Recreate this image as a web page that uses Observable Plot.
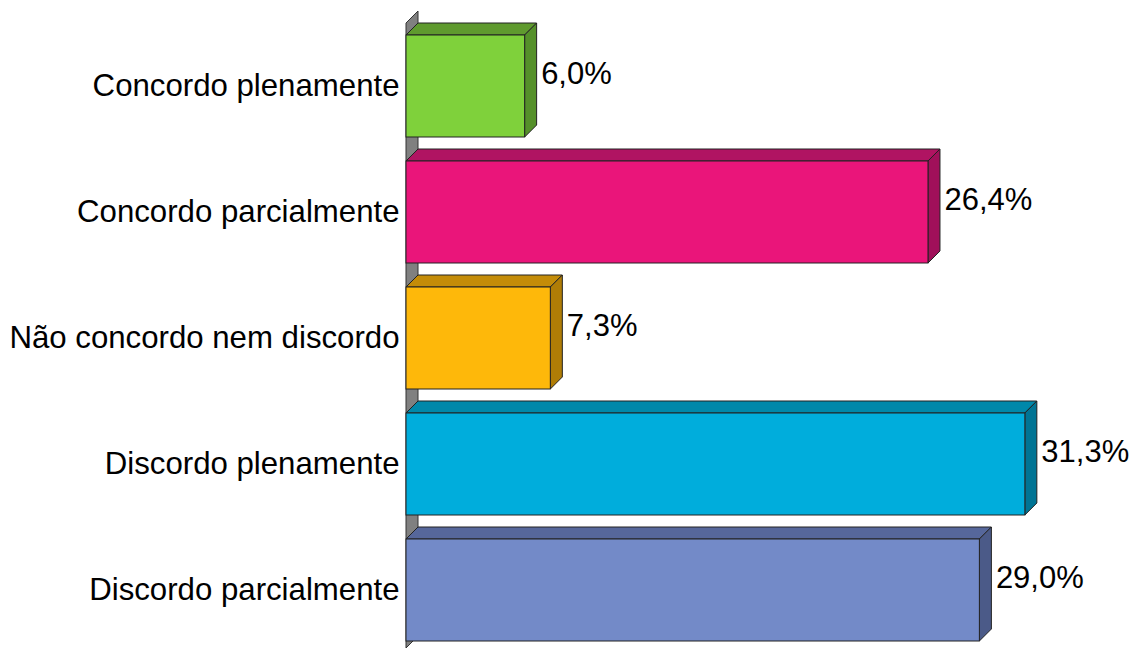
<!DOCTYPE html>
<html><head><meta charset="utf-8">
<script src="https://cdn.jsdelivr.net/npm/d3@7"></script>
<script src="https://cdn.jsdelivr.net/npm/@observablehq/plot@0.6"></script>
<style>body{margin:0;background:#fff;overflow:hidden}</style>
</head><body><div id="chart"></div>
<script>
const categories = ["Concordo plenamente", "Concordo parcialmente", "Não concordo nem discordo", "Discordo plenamente", "Discordo parcialmente"];
const values = [6.0, 26.4, 7.3, 31.3, 29.0];
const frontColors = ["#7FD13B", "#EA157A", "#FEB80A", "#00ADDC", "#738AC8"];
const topColors = ["#5F9A2E", "#B01462", "#C48C08", "#0088AA", "#56679B"];
const sideColors = ["#55902A", "#A0105A", "#B07D06", "#007494", "#4B5A88"];

const data = categories.map((c, i) => ({category: c, value: values[i], front: frontColors[i], top: topColors[i], side: sideColors[i]}));
const DX = 12, DY = -12;
const pt = (a) => a.map(p => p.join(",")).join(" ");

function wall(index, scales, vals, dims) {
  const x0 = scales.x(0);
  const g = d3.create("svg:g");
  g.append("polygon")
    .attr("points", pt([[x0, dims.marginTop + DY], [x0 + DX, dims.marginTop + 2 * DY], [x0 + DX, dims.height + DY], [x0, dims.height]]))
    .attr("fill", "#808080").attr("stroke", "#333").attr("stroke-width", 1);
  return g.node();
}

const chart = Plot.plot({
  width: 1133,
  height: 648,
  marginLeft: 406,
  marginRight: 34,
  marginTop: 35,
  marginBottom: 7,
  style: {fontFamily: "'Liberation Sans', Arial, sans-serif", color: "#000", background: "#fff"},
  x: {domain: [0, 35.05], axis: null},
  y: {domain: categories, paddingInner: 24 / 126, paddingOuter: 0, axis: null},
  color: {type: "identity"},
  marks: [
    wall,
    Plot.barX(data, {
      x: "value", y: "category", fill: "front", stroke: "#222", strokeWidth: 1,
      render(index, scales, vals, dims, context, next) {
        const g = d3.create("svg:g");
        const bw = scales.y.bandwidth();
        for (const i of index) {
          const d = data[i];
          const xa = Math.min(vals.x1[i], vals.x2[i]), xb = Math.max(vals.x1[i], vals.x2[i]);
          const ya = vals.y[i], yb = ya + bw;
          g.append("polygon").attr("points", pt([[xa, ya], [xa + DX, ya + DY], [xb + DX, ya + DY], [xb, ya]]))
            .attr("fill", d.top).attr("stroke", "#222").attr("stroke-width", 1).attr("stroke-linejoin", "round");
          g.append("polygon").attr("points", pt([[xb, ya], [xb + DX, ya + DY], [xb + DX, yb + DY], [xb, yb]]))
            .attr("fill", d.side).attr("stroke", "#222").attr("stroke-width", 1).attr("stroke-linejoin", "round");
        }
        g.append(() => next(index, scales, vals, dims, context));
        return g.node();
      }
    }),
    Plot.text(data, {
      x: "value", y: "category",
      text: d => d.value.toFixed(1).replace(".", ",") + "%",
      dx: 16, dy: -12, textAnchor: "start", fontSize: 31, fill: "#000"
    }),
    Plot.axisY({tickSize: 0, tickPadding: 7, fontSize: 31.2, label: null, fill: "#000"})
  ]
});
document.getElementById("chart").appendChild(chart);
</script>
</body></html>
